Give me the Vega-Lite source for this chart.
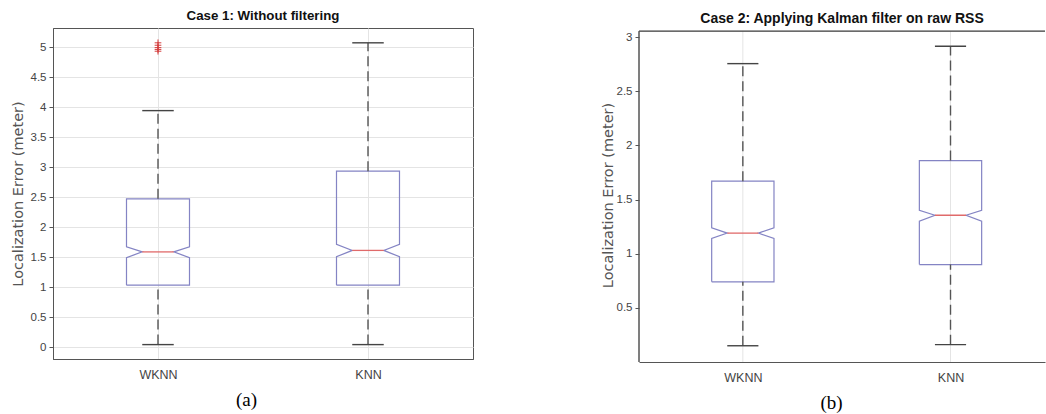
{
  "$schema": "https://vega.github.io/schema/vega-lite/v6.json",
  "padding": {"left": 9, "top": 8, "right": 0, "bottom": 0},
  "spacing": 126,
  "background": "white",
  "datasets": {
    "stats": [
      {"panel": "a", "method": "WKNN", "lw": 0.04, "q1": 1.03, "nlo": 1.49, "med": 1.585, "nhi": 1.67, "q3": 2.47, "uw": 3.94},
      {"panel": "a", "method": "KNN", "lw": 0.04, "q1": 1.03, "nlo": 1.505, "med": 1.61, "nhi": 1.71, "q3": 2.93, "uw": 5.07},
      {"panel": "b", "method": "WKNN", "lw": 0.15, "q1": 0.74, "nlo": 1.14, "med": 1.19, "nhi": 1.24, "q3": 1.67, "uw": 2.755},
      {"panel": "b", "method": "KNN", "lw": 0.16, "q1": 0.9, "nlo": 1.3, "med": 1.355, "nhi": 1.4, "q3": 1.86, "uw": 2.915}
    ],
    "outliers": [
      {"panel": "a", "method": "WKNN", "value": 5.07},
      {"panel": "a", "method": "WKNN", "value": 5.03},
      {"panel": "a", "method": "WKNN", "value": 4.99},
      {"panel": "a", "method": "WKNN", "value": 4.96},
      {"panel": "a", "method": "WKNN", "value": 4.93}
    ]
  },
  "hconcat": [
    {
      "width": 420,
      "height": 331,
      "title": {"text": "Case 1: Without filtering", "fontSize": 13.3, "offset": 6},
      "data": {"name": "stats"},
      "transform": [
        {"filter": "datum.panel === 'a'"},
        {"calculate": "datum.method === 'WKNN' ? 1 : 2", "as": "i"},
        {"calculate": "datum.i - 0.075", "as": "il"},
        {"calculate": "datum.i + 0.075", "as": "ir"}
      ],
      "layer": [
        {
          "transform": [
            {"calculate": "[{o:0,x:datum.i-0.15,y:datum.q1},{o:1,x:datum.i+0.15,y:datum.q1},{o:2,x:datum.i+0.15,y:datum.nlo},{o:3,x:datum.i+0.075,y:datum.med},{o:4,x:datum.i+0.15,y:datum.nhi},{o:5,x:datum.i+0.15,y:datum.q3},{o:6,x:datum.i-0.15,y:datum.q3},{o:7,x:datum.i-0.15,y:datum.nhi},{o:8,x:datum.i-0.075,y:datum.med},{o:9,x:datum.i-0.15,y:datum.nlo},{o:10,x:datum.i-0.15,y:datum.q1}]", "as": "v"},
            {"flatten": ["v"]}
          ],
          "mark": {"type": "line", "color": "#8484c4", "strokeWidth": 1.2},
          "encoding": {
            "x": {"field": "v.x", "type": "quantitative", "scale": {"domain": [0.5, 2.5], "nice": false, "zero": false},
                  "axis": {"title": "(a)", "values": [1, 2], "labelExpr": "datum.value == 1 ? 'WKNN' : 'KNN'", "ticks": false, "labelPadding": 9, "titleFont": "Liberation Serif", "titleFontSize": 19, "titleColor": "#000", "titlePadding": 10, "titleX": 193}},
            "y": {"field": "v.y", "type": "quantitative", "scale": {"domain": [-0.2, 5.317], "nice": false, "zero": false},
                  "axis": {"title": "Localization Error (meter)", "values": [0, 0.5, 1, 1.5, 2, 2.5, 3, 3.5, 4, 4.5, 5], "format": "~g", "titlePadding": 5}},
            "detail": {"field": "method"},
            "order": {"field": "v.o", "type": "quantitative"}
          }
        },
        {
          "mark": {"type": "rule", "color": "#e06a6a", "strokeWidth": 1.3},
          "encoding": {"x": {"field": "il", "type": "quantitative"}, "x2": {"field": "ir"},
                       "y": {"field": "med", "type": "quantitative", "axis": {"title": "Localization Error (meter)", "values": [0, 0.5, 1, 1.5, 2, 2.5, 3, 3.5, 4, 4.5, 5], "format": "~g", "titlePadding": 5}}}
        },
        {
          "mark": {"type": "rule", "color": "#555", "strokeWidth": 1.4, "strokeDash": [10, 5]},
          "encoding": {"x": {"field": "i", "type": "quantitative"},
                       "y": {"field": "q3", "type": "quantitative", "axis": {"title": "Localization Error (meter)", "values": [0, 0.5, 1, 1.5, 2, 2.5, 3, 3.5, 4, 4.5, 5], "format": "~g", "titlePadding": 5}}, "y2": {"field": "uw"}}
        },
        {
          "mark": {"type": "rule", "color": "#555", "strokeWidth": 1.4, "strokeDash": [10, 5]},
          "encoding": {"x": {"field": "i", "type": "quantitative"},
                       "y": {"field": "lw", "type": "quantitative", "axis": {"title": "Localization Error (meter)", "values": [0, 0.5, 1, 1.5, 2, 2.5, 3, 3.5, 4, 4.5, 5], "format": "~g", "titlePadding": 5}}, "y2": {"field": "q1"}}
        },
        {
          "mark": {"type": "rule", "color": "#444", "strokeWidth": 1.4},
          "encoding": {"x": {"field": "il", "type": "quantitative"}, "x2": {"field": "ir"},
                       "y": {"field": "uw", "type": "quantitative", "axis": {"title": "Localization Error (meter)", "values": [0, 0.5, 1, 1.5, 2, 2.5, 3, 3.5, 4, 4.5, 5], "format": "~g", "titlePadding": 5}}}
        },
        {
          "mark": {"type": "rule", "color": "#444", "strokeWidth": 1.4},
          "encoding": {"x": {"field": "il", "type": "quantitative"}, "x2": {"field": "ir"},
                       "y": {"field": "lw", "type": "quantitative", "axis": {"title": "Localization Error (meter)", "values": [0, 0.5, 1, 1.5, 2, 2.5, 3, 3.5, 4, 4.5, 5], "format": "~g", "titlePadding": 5}}}
        },
        {
          "data": {"name": "outliers"},
          "transform": [
            {"filter": "datum.panel === 'a'"},
            {"calculate": "datum.method === 'WKNN' ? 1 : 2", "as": "i"}
          ],
          "mark": {"type": "point", "shape": "M-1,0H1M0,-1V1", "filled": false, "color": "#d43c3c", "strokeWidth": 1, "size": 45, "opacity": 1},
          "encoding": {"x": {"field": "i", "type": "quantitative"},
                       "y": {"field": "value", "type": "quantitative", "axis": {"title": "Localization Error (meter)", "values": [0, 0.5, 1, 1.5, 2, 2.5, 3, 3.5, 4, 4.5, 5], "format": "~g", "titlePadding": 5}}}
        }
      ]
    },
    {
      "width": 406,
      "height": 334,
      "title": {"text": "Case 2: Applying Kalman filter on raw RSS", "fontSize": 14, "offset": 2},
      "view": {"stroke": null},
      "data": {"name": "stats"},
      "transform": [
        {"filter": "datum.panel === 'b'"},
        {"calculate": "datum.method === 'WKNN' ? 1 : 2", "as": "i"},
        {"calculate": "datum.i - 0.075", "as": "il"},
        {"calculate": "datum.i + 0.075", "as": "ir"}
      ],
      "layer": [
        {
          "mark": {"type": "rule", "color": "#e4e4e4", "strokeWidth": 1},
          "encoding": {"x": {"field": "i", "type": "quantitative", "axis": {"title": "(b)", "values": [1, 2], "labelExpr": "datum.value == 1 ? 'WKNN' : 'KNN'", "ticks": false, "grid": false, "labelPadding": 9, "titleFont": "Liberation Serif", "titleFontSize": 19, "titleColor": "#000", "titlePadding": 10, "titleX": 192}},
                       "y": {"datum": 0, "type": "quantitative", "axis": {"title": "Localization Error (meter)", "values": [0.5, 1, 1.5, 2, 2.5, 3], "format": "~g", "titlePadding": 1, "domain": false}},
                       "y2": {"datum": 3.055}}
        },
        {
          "transform": [
            {"calculate": "[{o:0,x:datum.i-0.15,y:datum.q1},{o:1,x:datum.i+0.15,y:datum.q1},{o:2,x:datum.i+0.15,y:datum.nlo},{o:3,x:datum.i+0.075,y:datum.med},{o:4,x:datum.i+0.15,y:datum.nhi},{o:5,x:datum.i+0.15,y:datum.q3},{o:6,x:datum.i-0.15,y:datum.q3},{o:7,x:datum.i-0.15,y:datum.nhi},{o:8,x:datum.i-0.075,y:datum.med},{o:9,x:datum.i-0.15,y:datum.nlo},{o:10,x:datum.i-0.15,y:datum.q1}]", "as": "v"},
            {"flatten": ["v"]}
          ],
          "mark": {"type": "line", "color": "#8484c4", "strokeWidth": 1.2},
          "encoding": {
            "x": {"field": "v.x", "type": "quantitative", "scale": {"domain": [0.5, 2.455], "nice": false, "zero": false},
                  "axis": {"title": "(b)", "values": [1, 2], "labelExpr": "datum.value == 1 ? 'WKNN' : 'KNN'", "ticks": false, "grid": false, "labelPadding": 9, "titleFont": "Liberation Serif", "titleFontSize": 19, "titleColor": "#000", "titlePadding": 10, "titleX": 192}},
            "y": {"field": "v.y", "type": "quantitative", "scale": {"domain": [0.0, 3.084], "nice": false, "zero": false},
                  "axis": {"title": "Localization Error (meter)", "values": [0.5, 1, 1.5, 2, 2.5, 3], "format": "~g", "titlePadding": 1, "domain": false}},
            "detail": {"field": "method"},
            "order": {"field": "v.o", "type": "quantitative"}
          }
        },
        {
          "mark": {"type": "rule", "color": "#555", "strokeWidth": 1},
          "encoding": {"y": {"datum": 3.055, "type": "quantitative", "axis": {"title": "Localization Error (meter)", "values": [0.5, 1, 1.5, 2, 2.5, 3], "format": "~g", "titlePadding": 1, "domain": false}}}
        },
        {
          "mark": {"type": "rule", "color": "#555", "strokeWidth": 1},
          "encoding": {"x": {"datum": 0.5, "type": "quantitative"},
                       "y": {"datum": 0, "type": "quantitative", "axis": {"title": "Localization Error (meter)", "values": [0.5, 1, 1.5, 2, 2.5, 3], "format": "~g", "titlePadding": 1, "domain": false}},
                       "y2": {"datum": 3.055}}
        },
        {
          "mark": {"type": "rule", "color": "#e06a6a", "strokeWidth": 1.3},
          "encoding": {"x": {"field": "il", "type": "quantitative"}, "x2": {"field": "ir"},
                       "y": {"field": "med", "type": "quantitative", "axis": {"title": "Localization Error (meter)", "values": [0.5, 1, 1.5, 2, 2.5, 3], "format": "~g", "titlePadding": 1, "domain": false}}}
        },
        {
          "mark": {"type": "rule", "color": "#555", "strokeWidth": 1.4, "strokeDash": [10, 5]},
          "encoding": {"x": {"field": "i", "type": "quantitative"},
                       "y": {"field": "q3", "type": "quantitative", "axis": {"title": "Localization Error (meter)", "values": [0.5, 1, 1.5, 2, 2.5, 3], "format": "~g", "titlePadding": 1, "domain": false}}, "y2": {"field": "uw"}}
        },
        {
          "mark": {"type": "rule", "color": "#555", "strokeWidth": 1.4, "strokeDash": [10, 5]},
          "encoding": {"x": {"field": "i", "type": "quantitative"},
                       "y": {"field": "lw", "type": "quantitative", "axis": {"title": "Localization Error (meter)", "values": [0.5, 1, 1.5, 2, 2.5, 3], "format": "~g", "titlePadding": 1, "domain": false}}, "y2": {"field": "q1"}}
        },
        {
          "mark": {"type": "rule", "color": "#444", "strokeWidth": 1.4},
          "encoding": {"x": {"field": "il", "type": "quantitative"}, "x2": {"field": "ir"},
                       "y": {"field": "uw", "type": "quantitative", "axis": {"title": "Localization Error (meter)", "values": [0.5, 1, 1.5, 2, 2.5, 3], "format": "~g", "titlePadding": 1, "domain": false}}}
        },
        {
          "mark": {"type": "rule", "color": "#444", "strokeWidth": 1.4},
          "encoding": {"x": {"field": "il", "type": "quantitative"}, "x2": {"field": "ir"},
                       "y": {"field": "lw", "type": "quantitative", "axis": {"title": "Localization Error (meter)", "values": [0.5, 1, 1.5, 2, 2.5, 3], "format": "~g", "titlePadding": 1, "domain": false}}}
        }
      ]
    }
  ],
  "config": {
    "view": {"stroke": "#555", "strokeWidth": 1},
    "axis": {
      "labelFont": "Liberation Sans", "labelFontSize": 11.5, "labelColor": "#444",
      "titleFont": "DejaVu Sans", "titleFontSize": 14.5, "titleFontWeight": "normal", "titleColor": "#555",
      "gridColor": "#e4e4e4", "domainColor": "#555", "tickColor": "#555", "tickSize": 4, "labelPadding": 3
    },
    "axisX": {"labelFontSize": 12.5},
    "title": {"font": "Liberation Sans", "fontWeight": "bold", "color": "#111"}
  }
}
